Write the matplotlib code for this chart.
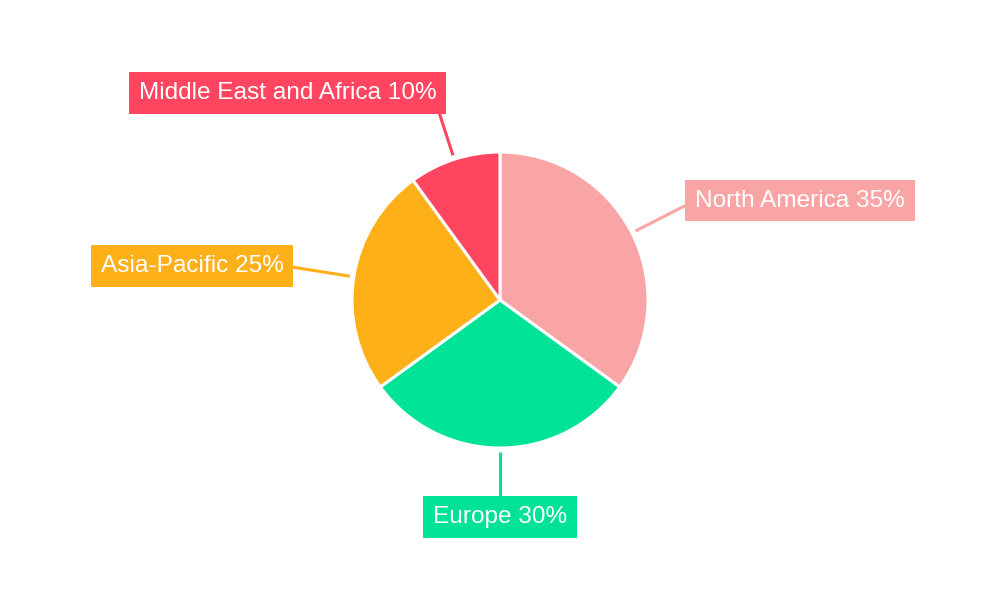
import numpy as np
import matplotlib.pyplot as plt

plt.rcParams['font.family'] = ['Liberation Sans', 'DejaVu Sans']

regions = ["North America", "Europe", "Asia-Pacific", "Middle East and Africa"]
shares = [35, 30, 25, 10]
colors = ["#F9A5A6", "#00E396", "#FEB019", "#FF4560"]

fig = plt.figure(figsize=(10, 6), dpi=100)
ax = fig.add_axes([0, 0, 1, 1])

cx, cy, r = 500, 300, 148
wedges, _ = ax.pie(shares, colors=colors, startangle=90, counterclock=False,
                   center=(cx, cy), radius=r, frame=True,
                   wedgeprops=dict(edgecolor="white", linewidth=2.2))
ax.set_xlim(0, 1000)
ax.set_ylim(0, 600)
ax.set_aspect("equal")
ax.axis("off")

for w, name, val, col in zip(wedges, regions, shares, colors):
    ang = np.deg2rad((w.theta1 + w.theta2) / 2)
    c, s = np.cos(ang), np.sin(ang)
    ha = "left" if c > 0.1 else ("right" if c < -0.1 else "center")
    va = "bottom" if s > 0.5 else ("top" if s < -0.5 else "center")
    d = 219 if va == "center" else 206
    tx, ty = cx + d * c, cy + d * s
    # radial leader line, the label box covers its far end
    ax.plot([cx + 152 * c, tx], [cy + 152 * s, ty], color=col, lw=2.2,
            solid_capstyle="butt", zorder=2)
    ax.text(tx, ty, f"{name} {val}%", ha=ha, va=va,
            fontsize=17.6, color="white", zorder=4,
            bbox=dict(boxstyle="square,pad=0.4", fc=col, ec="none"))

fig.savefig("out.png", dpi=100, facecolor="white")
